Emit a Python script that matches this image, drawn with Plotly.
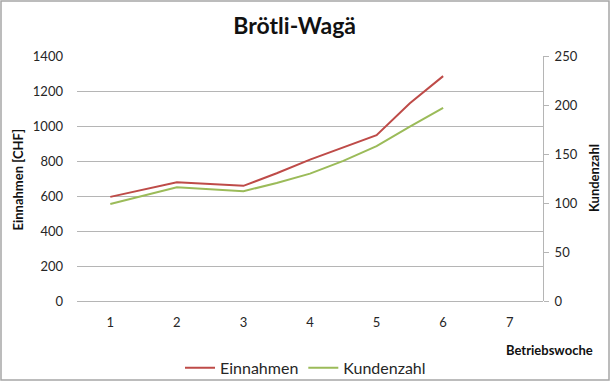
import plotly.graph_objects as go

# ---- data ----
weeks = [1, 2, 3, 3.5, 4, 4.5, 5, 5.5, 6]
einnahmen = [595, 679, 658, 730, 808, 877, 948, 1130, 1285]
kundenzahl = [99, 116, 112, 120.5, 130, 143, 158, 178, 197]
x_ticks = [1, 2, 3, 4, 5, 6, 7]
y_ticks = [0, 200, 400, 600, 800, 1000, 1200, 1400]
y2_ticks = [0, 50, 100, 150, 200, 250]

RED = "#BE4B48"
GREEN = "#9BBB59"
GRID = "#B5B5B5"
FONT = "Lato"

W, H = 610, 381
L, R, T, B = 77, 67, 56, 80
PW, PH = W - L - R, H - T - B


def px(x):
    return (x - L) / PW


def py(y):
    return (H - B - y) / PH


fig = go.Figure()
fig.add_trace(go.Scatter(x=weeks, y=einnahmen, name="Einnahmen", mode="lines",
                         line=dict(color=RED, width=2)))
fig.add_trace(go.Scatter(x=weeks, y=kundenzahl, name="Kundenzahl", mode="lines",
                         yaxis="y2", line=dict(color=GREEN, width=2)))

fig.update_layout(
    width=W, height=H,
    margin=dict(l=L, r=R, t=T, b=B, autoexpand=False),
    paper_bgcolor="white", plot_bgcolor="white",
    font=dict(family=FONT, size=13, color="#262626"),
    title=dict(text="<b>Brötli-Wagä</b>", x=294.7 / W, xanchor="center",
               y=1 - 25.5 / H, yanchor="middle",
               font=dict(family=FONT, size=23, color="#111111")),
    xaxis=dict(range=[0.5, 7.5], tickvals=x_ticks, showgrid=False, showline=False,
               zeroline=False, ticks="", ticklabelstandoff=12,
               tickfont=dict(size=13)),
    yaxis=dict(range=[0, 1400], tickvals=y_ticks, showgrid=True, gridcolor=GRID,
               gridwidth=1, showline=False, zeroline=True, zerolinecolor=GRID,
               zerolinewidth=1, ticks="", ticklabelstandoff=13,
               tickfont=dict(size=13)),
    yaxis2=dict(range=[0, 250], tickvals=y2_ticks, overlaying="y", side="right",
                showgrid=False, zeroline=False, showline=True, linecolor=GRID,
                linewidth=1, ticks="outside", ticklen=5, tickcolor=GRID,
                ticklabelstandoff=3, tickfont=dict(size=13)),
    legend=dict(orientation="h", xref="container", yref="container",
                x=305.5 / W, xanchor="center", y=1 - 367.8 / H,
                yanchor="middle", font=dict(size=16, color="#262626"),
                bgcolor="rgba(0,0,0,0)", itemwidth=30),
    showlegend=True,
    annotations=[
        dict(text="<b>Einnahmen [CHF]</b>", xref="paper", yref="paper",
             x=px(17), y=py(179.5), textangle=-90, showarrow=False,
             xanchor="center", yanchor="middle", font=dict(size=13, color="#111111")),
        dict(text="<b>Kundenzahl</b>", xref="paper", yref="paper",
             x=px(594), y=py(178), textangle=-90, showarrow=False,
             xanchor="center", yanchor="middle", font=dict(size=13, color="#111111")),
        dict(text="<b>Betriebswoche</b>", xref="paper", yref="paper",
             x=px(549.5), y=py(349.5), showarrow=False,
             xanchor="center", yanchor="middle", font=dict(size=13, color="#111111")),
    ],
    shapes=[
        dict(type="rect", xref="paper", yref="paper",
             x0=px(1), x1=px(609), y0=py(380), y1=py(1),
             line=dict(color="#A6A6A6", width=1.5), fillcolor="rgba(0,0,0,0)",
             layer="below"),
    ],
)

fig.write_html("out.html",
               config={"displayModeBar": False},
               post_script="document.body.style.margin='0';"
                           "document.body.style.overflow='hidden';")
